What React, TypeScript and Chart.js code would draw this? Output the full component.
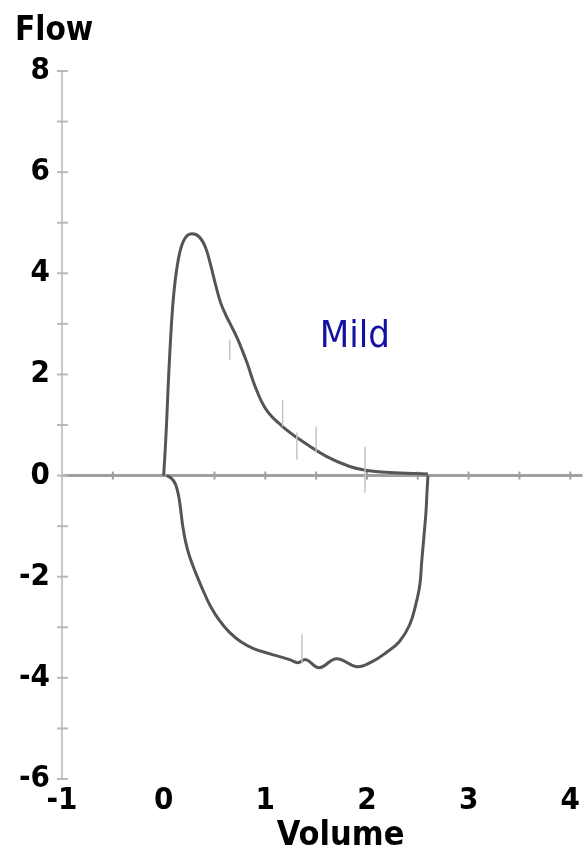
import React, { useEffect, useRef } from "react";
import { Chart, registerables } from "chart.js";

Chart.register(...registerables);

// Expiratory limb (positive flow)
const expVolume = [0, 0.015, 0.03, 0.045, 0.06, 0.08, 0.1, 0.13, 0.17, 0.22, 0.28, 0.35, 0.41, 0.46, 0.51, 0.56, 0.61, 0.66, 0.73, 0.82, 0.9, 1.01, 1.17, 1.37, 1.6, 1.83, 2.0, 2.22, 2.6];
const expFlow = [0, 0.5, 1.1, 1.8, 2.4, 3.1, 3.6, 4.1, 4.5, 4.72, 4.78, 4.72, 4.52, 4.18, 3.78, 3.42, 3.18, 2.98, 2.69, 2.23, 1.76, 1.3, 0.97, 0.67, 0.38, 0.18, 0.1, 0.06, 0.03];

// Inspiratory limb (negative flow)
const inspVolume = [0.029, 0.079, 0.118, 0.147, 0.167, 0.187, 0.216, 0.255, 0.314, 0.383, 0.462, 0.55, 0.648, 0.756, 0.884, 1.07, 1.24, 1.32, 1.4, 1.53, 1.7, 1.9, 2.05, 2.19, 2.32, 2.42, 2.48, 2.52, 2.54, 2.56, 2.58, 2.59, 2.6];
const inspFlow = [0, -0.06, -0.18, -0.4, -0.67, -0.99, -1.31, -1.6, -1.92, -2.25, -2.59, -2.87, -3.1, -3.28, -3.42, -3.54, -3.64, -3.7, -3.64, -3.8, -3.62, -3.78, -3.68, -3.5, -3.28, -2.95, -2.55, -2.16, -1.66, -1.21, -0.73, -0.34, 0];

// Timing marks (short vertical strokes)
const markVolume = [0.65, 1.17, 1.31, 1.5, 1.98, 1.36];
const markTop = [2.69, 1.5, 0.85, 0.97, 0.57, -3.14];
const markBottom = [2.29, 0.97, 0.32, 0.45, -0.34, -3.69];

const xTickValues = [-1, 0, 1, 2, 3, 4];
const xMinorTicks = [-0.5, 0.5, 1, 1.5, 2, 2.5, 3, 3.5, 4];
const yTickValues = [-6, -5, -4, -3, -2, -1, 0, 1, 2, 3, 4, 5, 6, 7, 8];
const yLabelValues = [-6, -4, -2, 0, 2, 4, 6, 8];

const xMin = -1;
const xMax = 4.12;
const yMin = -6;
const yMax = 8;

const annotationText = "Mild";
const annotationVolume = 1.88;
const annotationFlow = 2.55;
const yTitle = "Flow";
const xTitle = "Volume";

const FONT = "'DejaVu Sans Condensed', 'DejaVu Sans', sans-serif";

const overlayPlugin = {
  id: "overlay",
  beforeDatasetsDraw(chart: any) {
    const { ctx, chartArea, scales } = chart;
    const x = scales.x;
    const y = scales.y;
    ctx.save();
    ctx.strokeStyle = "#b8b8b8";
    ctx.lineWidth = 2;
    yTickValues.forEach((v) => {
      const py = y.getPixelForValue(v);
      ctx.beginPath();
      ctx.moveTo(chartArea.left - 5, py);
      ctx.lineTo(chartArea.left + 6, py);
      ctx.stroke();
    });
    ctx.strokeStyle = "#a0a0a0";
    const py0 = y.getPixelForValue(0);
    xMinorTicks.forEach((v) => {
      const px = x.getPixelForValue(v);
      ctx.beginPath();
      ctx.moveTo(px, py0 - 4);
      ctx.lineTo(px, py0 + 4);
      ctx.stroke();
    });
    ctx.restore();
  },
  afterDraw(chart: any) {
    const { ctx, chartArea, scales } = chart;
    ctx.save();
    ctx.fillStyle = "#000";
    ctx.font = `bold 33px ${FONT}`;
    ctx.textAlign = "left";
    ctx.textBaseline = "alphabetic";
    ctx.fillText(yTitle, chartArea.left - 47, chartArea.top - 31);
    ctx.font = `bold 34px ${FONT}`;
    ctx.textAlign = "center";
    ctx.fillText(xTitle, scales.x.getPixelForValue(1.74), chartArea.bottom + 66);
    ctx.fillStyle = "#1212a2";
    ctx.font = `38px 'DejaVu Sans Condensed', 'DejaVu Sans', sans-serif`;
    ctx.fillText(annotationText, scales.x.getPixelForValue(annotationVolume), scales.y.getPixelForValue(annotationFlow));
    ctx.restore();
  },
};

function buildMarks() {
  const pts: { x: number; y: number | null }[] = [];
  markVolume.forEach((v, i) => {
    pts.push({ x: v, y: markTop[i] });
    pts.push({ x: v, y: markBottom[i] });
    pts.push({ x: v, y: null });
  });
  return pts;
}

export default function App() {
  const ref = useRef<HTMLCanvasElement | null>(null);
  useEffect(() => {
    if (!ref.current) return;
    const chart = new Chart(ref.current, {
      type: "scatter",
      data: {
        datasets: [
          {
            data: buildMarks() as any,
            showLine: true,
            borderColor: "#c4c4c4",
            borderWidth: 1.5,
            pointRadius: 0,
            spanGaps: false,
          },
          {
            data: expVolume.map((v, i) => ({ x: v, y: expFlow[i] })),
            showLine: true,
            borderColor: "#555555",
            borderWidth: 3,
            pointRadius: 0,
            tension: 0.4,
          },
          {
            data: inspVolume.map((v, i) => ({ x: v, y: inspFlow[i] })),
            showLine: true,
            borderColor: "#555555",
            borderWidth: 3,
            pointRadius: 0,
            tension: 0.4,
          },
        ],
      },
      options: {
        animation: false,
        responsive: false,
        layout: { padding: { top: 71, left: 0, right: 0, bottom: 0 } },
        plugins: {
          legend: { display: false },
          tooltip: { enabled: false },
          title: { display: false },
        },
        scales: {
          x: {
            type: "linear",
            min: xMin,
            max: xMax,
            afterBuildTicks: (s: any) => {
              s.ticks = xTickValues.map((v) => ({ value: v }));
            },
            afterFit: (s: any) => {
              s.height = 70;
            },
            grid: { display: false, drawTicks: false },
            border: { display: false },
            ticks: {
              padding: 3,
              color: "#000",
              font: { family: FONT, size: 31, weight: "bold" },
              maxRotation: 0,
              autoSkip: false,
            },
          },
          y: {
            type: "linear",
            min: yMin,
            max: yMax,
            afterBuildTicks: (s: any) => {
              s.ticks = yTickValues.map((v) => ({ value: v }));
            },
            afterFit: (s: any) => {
              s.width = 62;
            },
            grid: {
              drawTicks: false,
              color: (c: any) => (c.tick && c.tick.value === 0 ? "#a0a0a0" : "rgba(0,0,0,0)"),
              lineWidth: (c: any) => (c.tick && c.tick.value === 0 ? 3 : 0),
            },
            border: { display: true, color: "#c8c8c8", width: 2 },
            ticks: {
              padding: 12,
              color: "#000",
              font: { family: FONT, size: 31, weight: "bold" },
              autoSkip: false,
              callback: (v: any) => (yLabelValues.includes(Number(v)) ? String(v) : ""),
            },
          },
        },
      },
      plugins: [overlayPlugin],
    });
    return () => chart.destroy();
  }, []);
  return (
    <div style={{ position: "absolute", left: 0, top: 0, width: 583, height: 849, background: "#fff" }}>
      <canvas ref={ref} width={583} height={849} style={{ display: "block" }} />
    </div>
  );
}
